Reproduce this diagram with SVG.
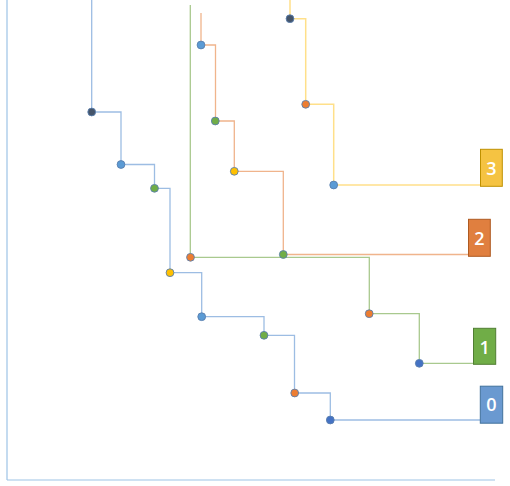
<svg xmlns="http://www.w3.org/2000/svg" width="510" height="486" viewBox="0 0 510 486">
<style>
.axis{stroke:#9DC3E6;stroke-width:1.2;fill:none}
.c0{stroke:#9DBDE3;stroke-width:1.3;fill:none}
.c1{stroke:#A9C98E;stroke-width:1.3;fill:none}
.c2{stroke:#F0B48C;stroke-width:1.3;fill:none}
.c3{stroke:#FFE08A;stroke-width:1.5;fill:none}
.dot{stroke:#5A7FAE;stroke-width:0.9}
.navy{fill:#44546A}.blue{fill:#5B9BD5}.green{fill:#70AD47}.yellow{fill:#FFC000}.orange{fill:#ED7D31}.dblue{fill:#4472C4}
.lbl{font-family:"Open Sans","Liberation Sans",Arial,sans-serif;font-size:18px;font-weight:600;fill:#FFFFFF;text-anchor:middle}
</style>
<g id="axes">
<line class="axis" x1="7" y1="0" x2="7" y2="480"/>
<line class="axis" x1="7" y1="480" x2="495" y2="480"/>
</g>
<g id="connectors">
<path class="c0" d="M91.7,0 V112 H121 V164.5 H154.5 V188.3 H170 V272.7 H201.7 V316.7 H264 V335.3 H294.5 V393 H330.3 V420 H480"/>
<path class="c1" d="M190.3,5 V257.3 H369.3 V313.7 H419.3 V363.3 H473.3"/>
<path class="c2" d="M201,13 V45 H215.5 V121 H234.3 V171.3 H283.3 V254.5 H468.3"/>
<path class="c3" d="M290,0 V18.7 H305.7 V104.3 H333.7 V185 H480.3"/>
</g>
<g id="dots">
<circle class="dot navy" cx="91.7" cy="112" r="3.9"/>
<circle class="dot blue" cx="121" cy="164.5" r="3.9"/>
<circle class="dot green" cx="154.5" cy="188.3" r="3.9"/>
<circle class="dot yellow" cx="170" cy="272.7" r="3.9"/>
<circle class="dot blue" cx="201.7" cy="316.7" r="3.9"/>
<circle class="dot green" cx="264" cy="335.3" r="3.9"/>
<circle class="dot orange" cx="294.7" cy="393" r="3.9"/>
<circle class="dot dblue" cx="330.3" cy="420" r="3.9"/>
<circle class="dot orange" cx="190.5" cy="257.3" r="3.9"/>
<circle class="dot orange" cx="369.2" cy="313.7" r="3.9"/>
<circle class="dot dblue" cx="419.3" cy="363.3" r="3.9"/>
<circle class="dot blue" cx="201" cy="45" r="3.9"/>
<circle class="dot green" cx="215.3" cy="121" r="3.9"/>
<circle class="dot yellow" cx="234.3" cy="171.3" r="3.9"/>
<circle class="dot green" cx="283.3" cy="254.5" r="3.9"/>
<circle class="dot navy" cx="290" cy="18.7" r="3.9"/>
<circle class="dot orange" cx="305.7" cy="104.3" r="3.9"/>
<circle class="dot blue" cx="333.7" cy="185" r="3.9"/>
</g>
<g id="box0">
<rect x="480.3" y="386.2" width="22.4" height="37" fill="#6A99D0" stroke="#41719C" stroke-width="1"/>
<text class="lbl" x="491.5" y="411">0</text>
</g>
<g id="box1">
<rect x="473.5" y="328.3" width="22.2" height="36" fill="#70AD47" stroke="#507E32" stroke-width="1"/>
<text class="lbl" x="484.6" y="353.5">1</text>
</g>
<g id="box2">
<rect x="468.5" y="219.3" width="21.8" height="37" fill="#E07F3F" stroke="#AE5A21" stroke-width="1"/>
<text class="lbl" x="479.4" y="244.5">2</text>
</g>
<g id="box3">
<rect x="480.5" y="149.3" width="21.8" height="37" fill="#F5C342" stroke="#BF9000" stroke-width="1"/>
<text class="lbl" x="491.4" y="174.5">3</text>
</g>
</svg>
